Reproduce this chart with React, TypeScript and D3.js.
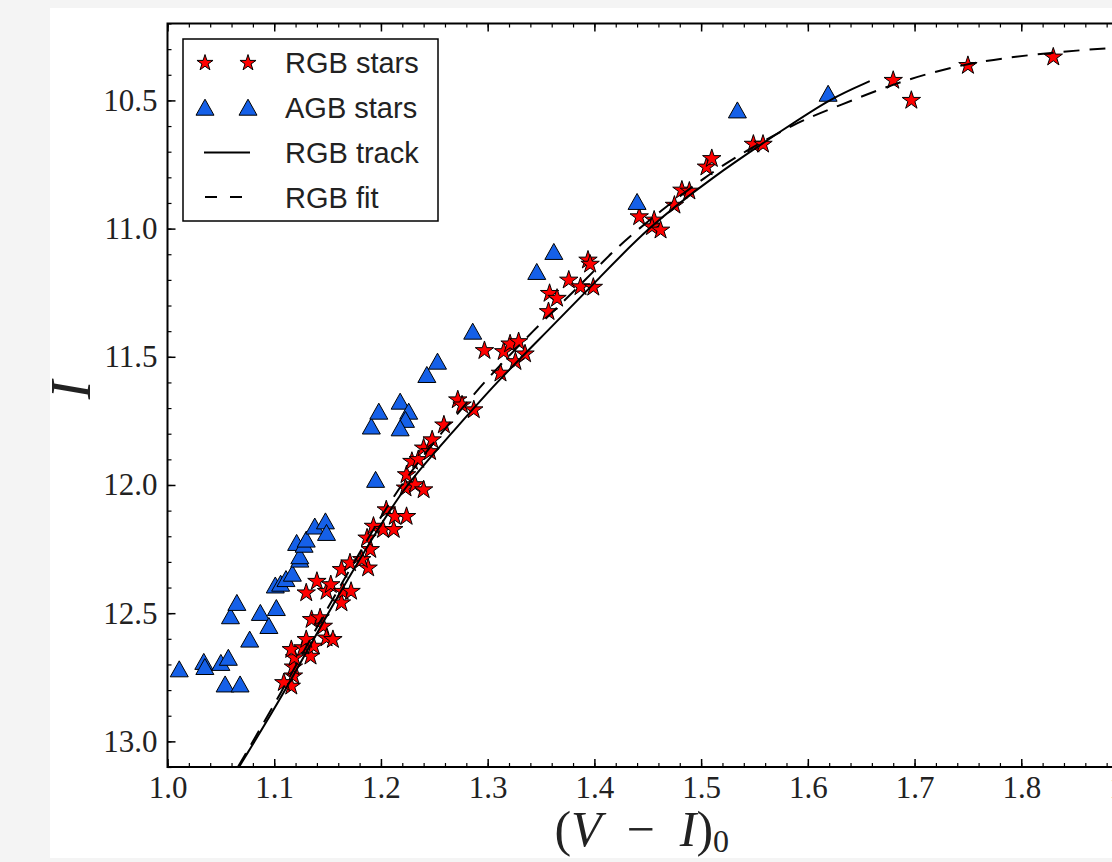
import React, { useEffect, useRef } from 'react';
import * as d3 from 'd3';

// RGB stars: [(V-I)_0, I]
const rgbColor = [
  1.116, 1.118, 1.109, 1.118, 1.119, 1.116, 1.127, 1.134, 1.137, 1.130,
  1.135, 1.143, 1.146, 1.149, 1.155, 1.130, 1.140, 1.149, 1.153, 1.163,
  1.164, 1.172, 1.163, 1.171, 1.188, 1.182, 1.190, 1.187, 1.193, 1.202,
  1.212, 1.205, 1.213, 1.224, 1.223, 1.232, 1.240, 1.224, 1.229, 1.235,
  1.240, 1.246, 1.248, 1.259, 1.272, 1.276, 1.287, 1.297, 1.312, 1.315,
  1.321, 1.329, 1.326, 1.335, 1.357, 1.358, 1.365, 1.376, 1.387, 1.399,
  1.394, 1.396, 1.442, 1.456, 1.454, 1.462, 1.475, 1.482, 1.489, 1.505,
  1.510, 1.549, 1.558, 1.680, 1.697, 1.750, 1.830,
];
const rgbMag = [
  12.785, 12.745, 12.771, 12.710, 12.674, 12.642, 12.635, 12.668, 12.629, 12.603,
  12.525, 12.518, 12.551, 12.597, 12.603, 12.421, 12.376, 12.415, 12.389, 12.460,
  12.415, 12.415, 12.330, 12.304, 12.324, 12.291, 12.252, 12.207, 12.161, 12.174,
  12.174, 12.097, 12.123, 12.123, 12.012, 11.999, 12.019, 11.960, 11.908, 11.901,
  11.856, 11.870, 11.824, 11.766, 11.668, 11.688, 11.707, 11.476, 11.564, 11.480,
  11.450, 11.441, 11.519, 11.489, 11.324, 11.253, 11.272, 11.201, 11.227, 11.229,
  11.123, 11.139, 10.954, 10.967, 10.993, 11.006, 10.909, 10.850, 10.854, 10.760,
  10.727, 10.671, 10.671, 10.422, 10.500, 10.364, 10.331,
];

// AGB stars
const agbColor = [
  1.011, 1.034, 1.035, 1.050, 1.057, 1.054, 1.068, 1.059, 1.065, 1.077,
  1.087, 1.095, 1.102, 1.101, 1.106, 1.111, 1.117, 1.124, 1.121, 1.124,
  1.128, 1.130, 1.138, 1.148, 1.149, 1.191, 1.198, 1.218, 1.226, 1.223,
  1.218, 1.195, 1.243, 1.253, 1.286, 1.346, 1.362, 1.440, 1.534, 1.619,
];
const agbMag = [
  12.719, 12.690, 12.710, 12.694, 12.674, 12.778, 12.778, 12.512, 12.460, 12.603,
  12.499, 12.550, 12.480, 12.392, 12.385, 12.367, 12.346, 12.291, 12.226, 12.278,
  12.233, 12.213, 12.162, 12.142, 12.187, 11.772, 11.714, 11.675, 11.714, 11.746,
  11.779, 11.980, 11.571, 11.519, 11.402, 11.169, 11.091, 10.896, 10.539, 10.474,
];

// RGB track (solid)
const trackColor = [1.067, 1.067, 1.111, 1.150, 1.193, 1.223, 1.266, 1.308, 1.356, 1.403, 1.449, 1.510, 1.582, 1.621, 1.658, 1.658];
const trackMag = [13.10, 13.10, 12.80, 12.50, 12.20, 12.00, 11.80, 11.60, 11.40, 11.20, 11.00, 10.80, 10.60, 10.493, 10.425, 10.425];

// RGB fit (dashed)
const fitColor = [1.066, 1.066, 1.108, 1.147, 1.189, 1.218, 1.256, 1.296, 1.342, 1.392, 1.421, 1.463, 1.503, 1.540, 1.593, 1.630, 1.680, 1.749, 1.830, 1.885, 1.910, 1.910];
const fitMag = [13.10, 13.10, 12.80, 12.50, 12.20, 12.00, 11.80, 11.60, 11.40, 11.20, 11.071, 10.928, 10.80, 10.701, 10.578, 10.52, 10.434, 10.351, 10.312, 10.295, 10.29, 10.29];

const xMajor = [1.0, 1.1, 1.2, 1.3, 1.4, 1.5, 1.6, 1.7, 1.8, 1.9];
const yMajor = [10.5, 11.0, 11.5, 12.0, 12.5, 13.0];

const legendItems = ['RGB stars', 'AGB stars', 'RGB track', 'RGB fit'];

const W = 1112;
const H = 862;
const plot = { left: 167.5, right: 1128, top: 23.5, bottom: 767 };

const triPath = (cx: number, cy: number) =>
  `M${cx},${cy - 8.5}L${cx + 9},${cy + 7.5}L${cx - 9},${cy + 7.5}Z`;

const useD3 = (draw: (svg: any) => void, deps: any[]) => {
  const ref = useRef<SVGSVGElement>(null);
  useEffect(() => {
    draw(d3.select(ref.current));
    return () => {
      d3.select(ref.current).selectAll('*').remove();
    };
  }, deps);
  return ref;
};

const App = () => {
  const ref = useD3((svg) => {
    const x = d3.scaleLinear().domain([1.0, 1.9]).range([plot.left, plot.right]);
    const y = d3.scaleLinear().domain([10.2, 13.1]).range([plot.top, plot.bottom]);

    // page background (light grey frame round the figure)
    svg.append('rect').attr('width', W).attr('height', H).attr('fill', '#f4f4f4');
    svg.append('rect').attr('x', 50).attr('y', 8).attr('width', W - 50).attr('height', 850).attr('fill', '#fff');

    const xMinor = d3.range(1.0, 1.901, 0.02);
    const yMinor = d3.range(10.2, 13.101, 0.1);
    const serif = '"Liberation Serif", "DejaVu Serif", serif';

    const styleAxis = (g: any, w: number) => {
      g.select('.domain').remove();
      g.selectAll('.tick line').attr('stroke', '#000').attr('stroke-width', w);
    };

    // bottom axis
    svg.append('g')
      .attr('transform', `translate(0,${plot.bottom})`)
      .call(d3.axisBottom(x).tickValues(xMinor).tickSize(-4).tickFormat(() => ''))
      .call((g: any) => styleAxis(g, 1.2));
    svg.append('g')
      .attr('transform', `translate(0,${plot.bottom})`)
      .call(d3.axisBottom(x).tickValues(xMajor).tickSize(-8).tickPadding(9).tickFormat(d3.format('.1f')))
      .call((g: any) => styleAxis(g, 1.5))
      .selectAll('text')
      .attr('font-family', serif)
      .attr('font-size', 31)
      .attr('fill', '#222');

    // top axis
    svg.append('g')
      .attr('transform', `translate(0,${plot.top})`)
      .call(d3.axisTop(x).tickValues(xMinor).tickSize(-4).tickFormat(() => ''))
      .call((g: any) => styleAxis(g, 1.2));
    svg.append('g')
      .attr('transform', `translate(0,${plot.top})`)
      .call(d3.axisTop(x).tickValues(xMajor).tickSize(-8).tickFormat(() => ''))
      .call((g: any) => styleAxis(g, 1.5));

    // left axis
    svg.append('g')
      .attr('transform', `translate(${plot.left},0)`)
      .call(d3.axisLeft(y).tickValues(yMinor).tickSize(-4).tickFormat(() => ''))
      .call((g: any) => styleAxis(g, 1.2));
    svg.append('g')
      .attr('transform', `translate(${plot.left},0)`)
      .call(d3.axisLeft(y).tickValues(yMajor).tickSize(-8).tickPadding(10).tickFormat(d3.format('.1f')))
      .call((g: any) => styleAxis(g, 1.5))
      .selectAll('text')
      .attr('font-family', serif)
      .attr('font-size', 31)
      .attr('fill', '#222');

    const clipId = 'plot-clip';
    svg.append('clipPath').attr('id', clipId)
      .append('rect')
      .attr('x', plot.left).attr('y', plot.top)
      .attr('width', plot.right - plot.left).attr('height', plot.bottom - plot.top);

    const area = svg.append('g').attr('clip-path', `url(#${clipId})`);

    const star = d3.symbol().type(d3.symbolStar).size(105);

    area.append('g')
      .selectAll('path')
      .data(rgbColor.map((c, i) => [c, rgbMag[i]]))
      .join('path')
      .attr('d', star)
      .attr('transform', (d: number[]) => `translate(${x(d[0])},${y(d[1])})`)
      .attr('fill', '#ff0000')
      .attr('stroke', '#000')
      .attr('stroke-width', 1);

    area.append('g')
      .selectAll('path')
      .data(agbColor.map((c, i) => [c, agbMag[i]]))
      .join('path')
      .attr('d', (d: number[]) => triPath(x(d[0]), y(d[1])))
      .attr('fill', '#1560e8')
      .attr('stroke', '#000')
      .attr('stroke-width', 1);

    const line = d3.line<number[]>()
      .x((d) => x(d[0]))
      .y((d) => y(d[1]))
      .curve(d3.curveBasis);

    area.append('path')
      .datum(trackColor.map((c, i) => [c, trackMag[i]]))
      .attr('d', line)
      .attr('fill', 'none')
      .attr('stroke', '#000')
      .attr('stroke-width', 2);

    area.append('path')
      .datum(fitColor.map((c, i) => [c, fitMag[i]]))
      .attr('d', line)
      .attr('fill', 'none')
      .attr('stroke', '#000')
      .attr('stroke-width', 2)
      .attr('stroke-dasharray', '16,10');

    // frame
    svg.append('rect')
      .attr('x', plot.left).attr('y', plot.top)
      .attr('width', plot.right - plot.left).attr('height', plot.bottom - plot.top)
      .attr('fill', 'none')
      .attr('stroke', '#000')
      .attr('stroke-width', 2);

    // legend
    const lg = svg.append('g');
    lg.append('rect')
      .attr('x', 183).attr('y', 39).attr('width', 255).attr('height', 182)
      .attr('fill', '#fff').attr('stroke', '#000').attr('stroke-width', 1.5);
    const rowY = (i: number) => 63 + i * 44.7;
    [205, 248].forEach((mx) => {
      lg.append('path')
        .attr('d', d3.symbol().type(d3.symbolStar).size(80)())
        .attr('transform', `translate(${mx},${rowY(0)})`)
        .attr('fill', '#ff0000').attr('stroke', '#000').attr('stroke-width', 1);
      lg.append('path')
        .attr('d', triPath(mx, rowY(1)))
        .attr('fill', '#1560e8').attr('stroke', '#000').attr('stroke-width', 1);
    });
    lg.append('line')
      .attr('x1', 204).attr('x2', 250).attr('y1', rowY(2)).attr('y2', rowY(2))
      .attr('stroke', '#000').attr('stroke-width', 2);
    lg.append('line')
      .attr('x1', 205).attr('x2', 243).attr('y1', rowY(3)).attr('y2', rowY(3))
      .attr('stroke', '#000').attr('stroke-width', 2).attr('stroke-dasharray', '12,13');
    lg.selectAll('text.item')
      .data(legendItems)
      .join('text')
      .attr('class', 'item')
      .attr('x', 285)
      .attr('y', (d: string, i: number) => rowY(i))
      .attr('dy', '0.36em')
      .attr('font-family', '"Liberation Sans", Arial, sans-serif')
      .attr('font-size', 29)
      .attr('fill', '#222')
      .text((d: string) => d);

    // axis labels
    const xl = svg.append('text')
      .attr('x', (plot.left + plot.right) / 2 - 6)
      .attr('y', 846)
      .attr('text-anchor', 'middle')
      .attr('font-family', serif)
      .attr('font-size', 50)
      .attr('fill', '#222');
    xl.append('tspan').text('(');
    xl.append('tspan').attr('font-style', 'italic').text('V');
    xl.append('tspan').text('\u2002\u2212\u2002');
    xl.append('tspan').attr('font-style', 'italic').text('I');
    xl.append('tspan').text(')');
    xl.append('tspan').attr('dy', 6).attr('font-size', 32).text('0');

    svg.append('text')
      .attr('transform', `translate(90,390) rotate(-90)`)
      .attr('text-anchor', 'middle')
      .attr('font-family', serif)
      .attr('font-style', 'italic')
      .attr('font-size', 56)
      .attr('fill', '#222')
      .text('I');
  }, []);

  return (
    <>
      <style>{`body{margin:0}`}</style>
      <svg ref={ref} width={W} height={H} style={{ display: 'block' }} />
    </>
  );
};

export default App;
